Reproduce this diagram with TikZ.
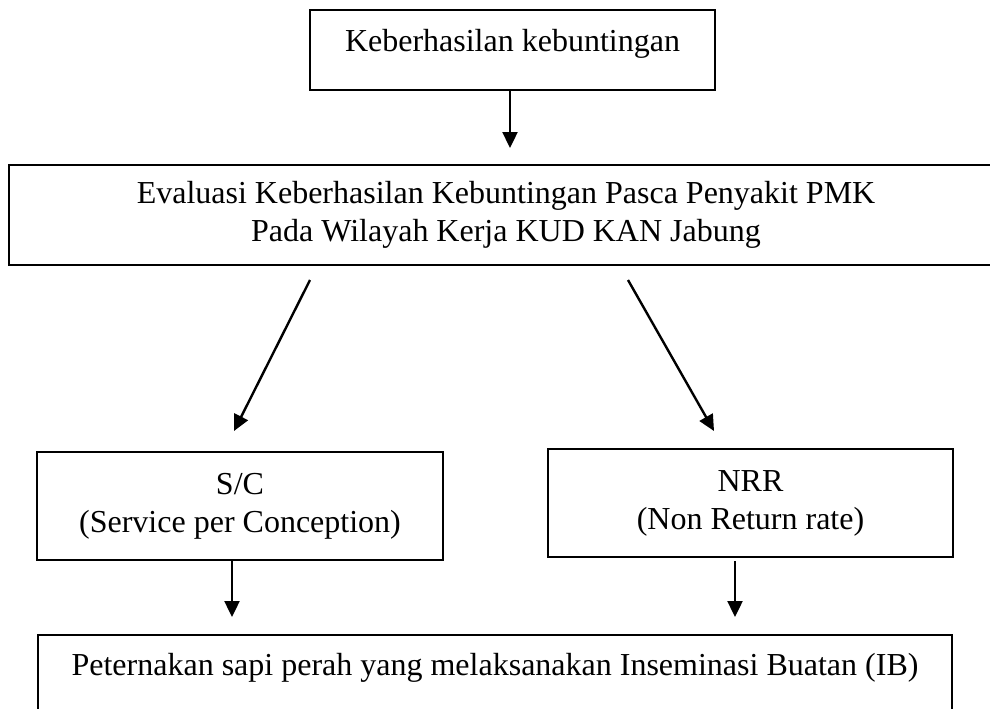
\documentclass[tikz,border=0pt]{standalone}
\usepackage{fontspec}
\setmainfont{Liberation Serif}
\usetikzlibrary{arrows.meta}
\begin{document}
\begin{tikzpicture}[x=1pt,y=-1pt,
  box/.style={draw=black, line width=1.4pt, rectangle, inner sep=0pt, align=center,
    font=\fontsize{32}{38}\selectfont},
  arr/.style={line width=2.4pt, -{Triangle[length=16pt,width=15pt]}}]
\useasboundingbox (0,0) rectangle (990,709);
\clip (0,0) rectangle (990,709);
\fill[white] (0,0) rectangle (990,709);

\node[box, minimum width=405pt, minimum height=80pt, text height=22pt, text depth=18pt]
  (b1) at (512.5,50) {Keberhasilan kebuntingan};
\node[box, minimum width=994pt, minimum height=100pt]
  (b2) at (506,215) {Evaluasi Keberhasilan Kebuntingan Pasca Penyakit PMK\\Pada Wilayah Kerja KUD KAN Jabung};
\node[box, minimum width=406pt, minimum height=108pt]
  (b3) at (240,506) {S/C\\(Service per Conception)};
\node[box, minimum width=405pt, minimum height=108pt]
  (b4) at (750.5,503) {NRR\\(Non Return rate)};
\node[box, minimum width=914pt, minimum height=100pt, text height=12pt, text depth=32pt]
  (b5) at (495,685) {Peternakan sapi perah yang melaksanakan Inseminasi Buatan (IB)};

\coordinate (a1e) at (510,148);
\coordinate (d1s) at (310,280);
\coordinate (d1e) at (234,431);
\coordinate (d2s) at (628,280);
\coordinate (d2e) at (714,431);
\coordinate (v1s) at (232,561);
\coordinate (v1e) at (232,617);
\coordinate (v2s) at (735,561);
\coordinate (v2e) at (735,617);

\draw[arr] (b1.south -| a1e) -- (a1e);
\draw[arr] (d1s) -- (d1e);
\draw[arr] (d2s) -- (d2e);
\draw[arr] (v1s) -- (v1e);
\draw[arr] (v2s) -- (v2e);
\end{tikzpicture}
\end{document}
